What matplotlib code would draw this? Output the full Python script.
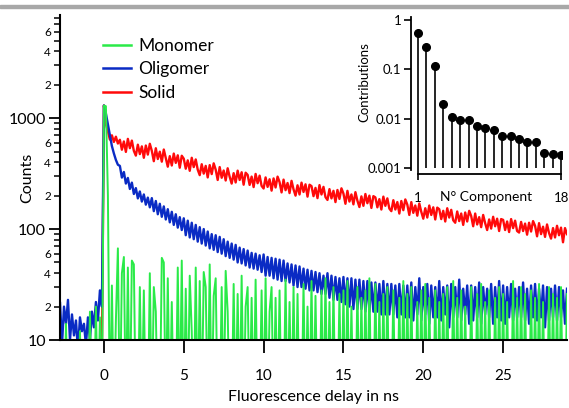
import numpy as np
import matplotlib
matplotlib.use("Agg")
import matplotlib.pyplot as plt
from matplotlib.patches import Rectangle
from matplotlib.ticker import FixedLocator, FuncFormatter, LogLocator, NullLocator

plt.rcParams["font.family"] = ["Lato", "DejaVu Sans"]

# sampling grid of the decay traces (ns)
time_ns = np.arange(-3.0, 29.0 + 1e-9, 0.125)

# one row = one ns (8 channels); values below 10 fall under the axis
solid_counts = [
    4, 4, 4, 4, 4, 4, 4, 4,
    4, 4, 4, 4, 4, 4, 4, 4,
    4, 4, 4, 4, 4, 4, 5, 8,
    1300, 880, 760, 640, 700, 610, 680, 590,
    638, 519, 616, 496, 650, 536, 627, 507,
    459, 576, 474, 556, 439, 566, 469, 587,
    507, 409, 535, 428, 498, 405, 521, 437,
    365, 454, 374, 479, 395, 462, 357, 458,
    431, 350, 416, 335, 439, 362, 424, 343,
    306, 384, 316, 371, 292, 377, 313, 391,
    343, 277, 362, 290, 337, 274, 353, 296,
    257, 319, 263, 336, 277, 325, 251, 322,
    308, 250, 297, 239, 314, 259, 303, 245,
    232, 292, 240, 281, 222, 286, 237, 297,
    265, 214, 279, 224, 260, 211, 272, 228,
    200, 248, 205, 262, 216, 253, 196, 251,
    244, 198, 235, 190, 249, 205, 240, 194,
    183, 229, 189, 221, 175, 225, 187, 233,
    209, 169, 221, 177, 205, 167, 215, 180,
    158, 197, 162, 207, 171, 200, 155, 198,
    193, 157, 186, 150, 196, 162, 189, 153,
    145, 182, 150, 175, 138, 179, 148, 185,
    166, 134, 175, 140, 163, 132, 170, 143,
    124, 154, 127, 163, 134, 157, 122, 156,
    151, 123, 146, 117, 154, 127, 149, 120,
    114, 144, 118, 138, 109, 141, 117, 146,
    131, 106, 138, 110, 128, 104, 134, 113,
    98, 122, 101, 129, 106, 124, 96, 123,
    121, 98, 117, 94, 123, 102, 119, 96,
    93, 116, 96, 112, 89, 114, 95, 118,
    107, 86, 113, 90, 105, 85, 110, 92,
    82, 102, 84, 107, 88, 103, 76, 102,
    90,
]

oligomer_counts = [
    18, 12, 22, 9, 20, 14, 23, 10,
    17, 11, 15, 8, 16, 12, 14, 9,
    16, 10, 18, 13, 22, 15, 28, 20,
    1300, 1100, 880, 700, 560, 480, 420, 380,
    371, 291, 327, 257, 289, 230, 262, 207,
    234, 189, 218, 177, 205, 166, 192, 157,
    190, 145, 179, 136, 169, 129, 160, 122,
    151, 115, 143, 109, 136, 103, 128, 98,
    125, 88, 119, 84, 114, 81, 109, 77,
    104, 74, 100, 71, 95, 67, 90, 65,
    88, 62, 85, 60, 81, 57, 77, 55,
    74, 53, 72, 50, 68, 49, 66, 47,
    64, 45, 61, 44, 60, 43, 58, 41,
    59, 38, 56, 38, 55, 36, 54, 35,
    53, 34, 52, 34, 49, 33, 48, 31,
    47, 30, 46, 30, 44, 29, 43, 28,
    42, 28, 41, 27, 40, 26, 38, 26,
    40, 24, 38, 23, 37, 23, 36, 22,
    37, 21, 36, 20, 36, 19, 35, 19,
    35, 19, 34, 18, 34, 18, 33, 18,
    33, 18, 32, 17, 34, 17, 32, 17,
    32, 17, 31, 16, 32, 17, 31, 16,
    31, 16, 33, 15, 30, 17, 36, 15,
    30, 17, 32, 14, 31, 16, 30, 16,
    34, 15, 30, 17, 31, 13, 32, 16,
    30, 16, 35, 15, 29, 17, 31, 14,
    31, 15, 30, 16, 33, 14, 30, 17,
    29, 16, 32, 14, 30, 16, 34, 15,
    31, 14, 30, 16, 32, 15, 29, 16,
    30, 16, 33, 15, 29, 14, 31, 16,
    32, 15, 29, 16, 31, 13, 30, 15,
    29, 16, 31, 15, 30, 16, 28, 14,
    29,
]

monomer_counts = [
    2, 2, 2, 2, 2, 14, 2, 2,
    2, 2, 2, 2, 12, 2, 2, 2,
    2, 18, 2, 2, 20, 2, 16, 2,
    1300, 1280, 200, 2, 31, 2, 15, 67,
    2, 40, 56, 2, 45, 2, 52, 48,
    2, 2, 30, 2, 28, 2, 2, 40,
    2, 30, 18, 2, 2, 55, 50, 2,
    36, 2, 22, 2, 2, 45, 2, 52,
    2, 29, 2, 38, 12, 2, 45, 2,
    34, 2, 41, 30, 2, 48, 2, 25,
    36, 2, 2, 30, 2, 42, 18, 2,
    2, 32, 2, 26, 2, 38, 2, 20,
    30, 2, 24, 2, 35, 2, 2, 28,
    2, 36, 2, 18, 30, 2, 24, 2,
    28, 2, 2, 35, 2, 22, 2, 30,
    2, 26, 2, 2, 32, 2, 20, 2,
    34, 2, 25, 2, 2, 28, 2, 36,
    2, 22, 2, 30, 2, 2, 26, 2,
    28, 2, 34, 2, 20, 2, 2, 30,
    2, 24, 2, 28, 2, 36, 2, 2,
    32, 2, 22, 2, 26, 2, 30, 2,
    2, 28, 2, 2, 24, 2, 34, 2,
    26, 2, 30, 2, 2, 22, 2, 28,
    2, 32, 2, 24, 2, 2, 28, 2,
    22, 2, 26, 2, 30, 2, 2, 34,
    2, 24, 2, 28, 2, 20, 2, 2,
    30, 2, 2, 26, 2, 32, 2, 22,
    2, 28, 2, 2, 24, 2, 30, 2,
    26, 2, 22, 2, 2, 34, 2, 24,
    2, 30, 2, 26, 2, 2, 28, 2,
    24, 2, 32, 2, 22, 2, 2, 30,
    2, 26, 2, 24, 2, 30, 2, 2,
    26,
]

series_names = ["Monomer", "Oligomer", "Solid"]
series_colors = ["#2aea48", "#0a2bc4", "#ff0a0a"]

# inset: contribution of each decay component
component = np.arange(1, 19)
contributions = [0.55, 0.28, 0.115, 0.020, 0.011, 0.0095, 0.0093, 0.0072, 0.0065,
                 0.0060, 0.0045, 0.0044, 0.0038, 0.0033, 0.0033, 0.0020, 0.0019, 0.0018]

fig = plt.figure(figsize=(5.69, 4.08), dpi=100)
fig.patches.append(Rectangle((0, 1 - 8 / 408), 1, 3 / 408, transform=fig.transFigure,
                             color="#a8a8a8", zorder=0))

ax = fig.add_axes([60 / 569, 68 / 408, 507 / 569, 325 / 408])
l_sol, = ax.plot(time_ns, solid_counts, color=series_colors[2], lw=1.7)
l_oli, = ax.plot(time_ns, oligomer_counts, color=series_colors[1], lw=1.7)
l_mon, = ax.plot(time_ns, monomer_counts, color=series_colors[0], lw=1.4)

ax.set_yscale("log")
ax.set_ylim(10, 8500)
ax.set_xlim(-2.75, 29)
for side in ("top", "right"):
    ax.spines[side].set_visible(False)
for side in ("left", "bottom"):
    ax.spines[side].set_linewidth(1.5)

ax.set_xticks([0, 5, 10, 15, 20, 25])
ax.tick_params(axis="x", direction="out", length=9, width=1.3, pad=12, labelsize=11)
ax.yaxis.set_major_locator(FixedLocator([10, 100, 1000]))
ax.yaxis.set_major_formatter(FuncFormatter(lambda v, p: f"{v:g}"))
ax.yaxis.set_minor_locator(LogLocator(base=10, subs=range(2, 10), numticks=20))


def minor_label(v, pos):
    lead = int(round(v / 10 ** np.floor(np.log10(v))))
    return str(lead) if lead in (2, 4, 6) else ""


ax.yaxis.set_minor_formatter(FuncFormatter(minor_label))
ax.tick_params(axis="y", which="major", direction="out", length=8, width=1.3, pad=2, labelsize=11.5)
ax.tick_params(axis="y", which="minor", direction="out", length=4.5, width=1.1, pad=2, labelsize=8.5)

ax.set_xlabel("Fluorescence delay in ns", fontsize=11.5, labelpad=5)
ax.set_ylabel("Counts", fontsize=11.5)
ax.yaxis.set_label_coords(-0.05, 0.5)

ax.legend([l_mon, l_oli, l_sol], series_names, loc="upper left",
          bbox_to_anchor=(103 / 569, 1 - 38 / 408), bbox_transform=fig.transFigure,
          frameon=False, fontsize=12.5, handlelength=1.6, handletextpad=0.45,
          labelspacing=0.42, borderpad=0, borderaxespad=0)
for h in ax.get_legend().get_lines():
    h.set_linewidth(1.8)

# inset
ax_in = fig.add_axes([411 / 569, (408 - 170) / 408, 151 / 569, 153 / 408])
ax_in.set_facecolor("none")
markers, stems, base = ax_in.stem(component, contributions, bottom=0.001)
base.set_visible(False)
markers.set_color("black")
markers.set_markersize(5.5)
stems.set_color("black")
stems.set_linewidth(1.2)
ax_in.set_yscale("log")
ax_in.set_ylim(0.00091, 1.15)
ax_in.set_xlim(0.17, 18.1)
for side in ("top", "right"):
    ax_in.spines[side].set_visible(False)
ax_in.spines["left"].set_linewidth(1.3)
ax_in.spines["bottom"].set_linewidth(1.3)
ax_in.spines["bottom"].set_position(("outward", 3))
ax_in.spines["bottom"].set_bounds(1, 18)
ax_in.set_xticks([1, 18])
ax_in.tick_params(axis="x", direction="inout", length=8, width=1.2, pad=9, labelsize=9.5)
ax_in.yaxis.set_major_locator(FixedLocator([0.001, 0.01, 0.1, 1]))
ax_in.yaxis.set_major_formatter(FuncFormatter(lambda v, p: f"{v:g}"))
ax_in.yaxis.set_minor_locator(NullLocator())
ax_in.tick_params(axis="y", direction="out", length=5, width=1.2, pad=2, labelsize=9.5)
ax_in.set_xlabel("N° Component", fontsize=10)
ax_in.xaxis.set_label_coords(0.5, -0.14)
ax_in.set_ylabel("Contributions", fontsize=9.5)
ax_in.yaxis.set_label_coords(-0.27, 0.575)

fig.savefig("out.png", dpi=100)
